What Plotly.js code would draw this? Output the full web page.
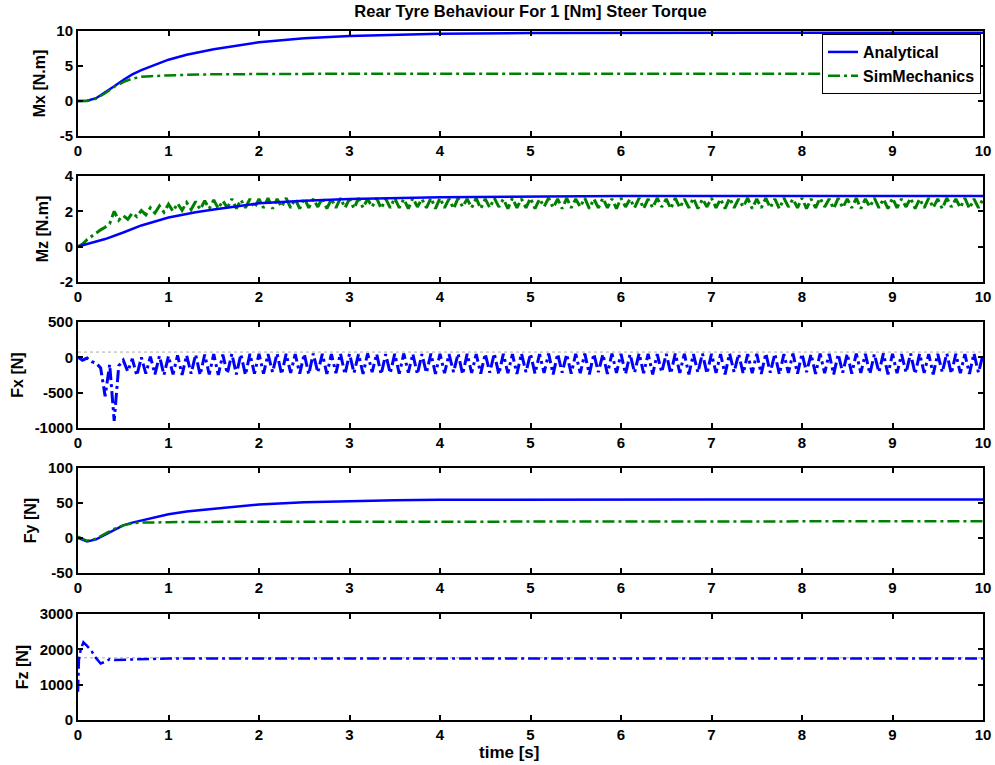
<!DOCTYPE html>
<html>
<head>
<meta charset="utf-8">
<script src="https://cdn.plot.ly/plotly-3.0.1.min.js"></script>
<style>html,body{margin:0;padding:0;background:#fff;}#chart{width:995px;height:765px;}</style>
</head>
<body>
<div id="chart"></div>
<script>
// ---------- data ----------
const tA = [0,0.1,0.2,0.3,0.4,0.5,0.6,0.7,0.8,1,1.2,1.5,2,2.5,3,3.5,4,5,6,7,8,9,10];
const mxAnalytical = [0,0.05,0.4,1.2,2.1,3.0,3.8,4.4,4.9,5.9,6.6,7.4,8.4,8.95,9.3,9.5,9.6,9.7,9.75,9.75,9.75,9.75,9.75];
const mxSim = [0,0,0.35,1.1,2.0,2.7,3.2,3.45,3.55,3.7,3.75,3.82,3.87,3.9,3.9,3.9,3.9,3.9,3.9,3.9,3.9,3.9,3.9];

const tMzA = [0,0.1,0.2,0.3,0.5,0.7,1,1.3,1.5,2,2.5,3,4,5,6,8,10];
const mzAnalytical = [0,0.15,0.3,0.43,0.8,1.2,1.65,1.95,2.1,2.45,2.6,2.7,2.8,2.85,2.87,2.87,2.87];

const tOsc = [0,0.05,0.1,0.15,0.2,0.25,0.3,0.35,0.4,0.45,0.5,0.55,0.6,0.65,0.7,0.75,0.8,0.85,0.9,0.95,
1,1.05,1.1,1.15,1.2,1.25,1.3,1.35,1.4,1.45,1.5,1.55,1.6,1.65,1.7,1.75,1.8,1.85,1.9,1.95,
2,2.05,2.1,2.15,2.2,2.25,2.3,2.35,2.4,2.45,2.5,2.55,2.6,2.65,2.7,2.75,2.8,2.85,2.9,2.95,
3,3.05,3.1,3.15,3.2,3.25,3.3,3.35,3.4,3.45,3.5,3.55,3.6,3.65,3.7,3.75,3.8,3.85,3.9,3.95,
4,4.05,4.1,4.15,4.2,4.25,4.3,4.35,4.4,4.45,4.5,4.55,4.6,4.65,4.7,4.75,4.8,4.85,4.9,4.95,
5,5.05,5.1,5.15,5.2,5.25,5.3,5.35,5.4,5.45,5.5,5.55,5.6,5.65,5.7,5.75,5.8,5.85,5.9,5.95,
6,6.05,6.1,6.15,6.2,6.25,6.3,6.35,6.4,6.45,6.5,6.55,6.6,6.65,6.7,6.75,6.8,6.85,6.9,6.95,
7,7.05,7.1,7.15,7.2,7.25,7.3,7.35,7.4,7.45,7.5,7.55,7.6,7.65,7.7,7.75,7.8,7.85,7.9,7.95,
8,8.05,8.1,8.15,8.2,8.25,8.3,8.35,8.4,8.45,8.5,8.55,8.6,8.65,8.7,8.75,8.8,8.85,8.9,8.95,
9,9.05,9.1,9.15,9.2,9.25,9.3,9.35,9.4,9.45,9.5,9.55,9.6,9.65,9.7,9.75,9.8,9.85,9.9,9.95,
10];

const mzSim = [0,0.15,0.4,0.6,0.75,0.95,1.1,1.3,2.0,1.5,1.75,1.55,1.9,1.7,2.05,1.8,2.2,1.9,2.3,1.95,
2.4,2.0,2.45,2.05,2.5,2.1,2.55,2.1,2.6,2.15,2.65,2.15,2.6,2.2,2.7,2.15,2.65,2.2,2.7,2.2,
2.7,2.2,2.75,2.15,2.7,2.25,2.75,2.2,2.7,2.15,2.75,2.2,2.7,2.25,2.75,2.15,2.7,2.2,2.75,2.2,
2.7,2.15,2.75,2.2,2.7,2.25,2.75,2.15,2.7,2.2,2.75,2.2,2.7,2.15,2.75,2.25,2.7,2.2,2.75,2.15,
2.75,2.2,2.7,2.15,2.75,2.25,2.7,2.2,2.75,2.15,2.7,2.2,2.75,2.25,2.7,2.15,2.75,2.2,2.7,2.2,
2.75,2.15,2.7,2.25,2.75,2.2,2.7,2.15,2.75,2.2,2.7,2.25,2.75,2.15,2.7,2.2,2.75,2.2,2.7,2.15,
2.75,2.25,2.7,2.2,2.75,2.15,2.7,2.2,2.75,2.25,2.7,2.15,2.75,2.2,2.7,2.2,2.75,2.15,2.7,2.25,
2.75,2.2,2.7,2.15,2.75,2.2,2.7,2.25,2.75,2.15,2.7,2.2,2.75,2.2,2.7,2.15,2.75,2.25,2.7,2.2,
2.75,2.15,2.7,2.2,2.75,2.25,2.7,2.15,2.75,2.2,2.7,2.2,2.75,2.15,2.7,2.25,2.75,2.2,2.7,2.15,
2.75,2.2,2.7,2.25,2.75,2.15,2.7,2.2,2.75,2.2,2.7,2.15,2.75,2.25,2.7,2.2,2.75,2.15,2.7,2.2,
2.7];

const fxSim = [0,-40,-10,-60,-80,-150,-550,-100,-900,-120,-40,-200,-20,-260,0,-230,10,-240,20,-250,
20,-240,30,-250,30,-230,40,-250,40,-240,45,-250,40,-230,50,-240,45,-250,50,-230,
50,-230,45,-210,55,-240,50,-220,45,-230,50,-240,55,-215,50,-235,45,-225,55,-240,
50,-220,45,-235,55,-210,50,-240,45,-225,50,-230,55,-215,50,-240,45,-220,55,-235,
50,-225,45,-210,55,-240,50,-220,45,-230,50,-215,55,-240,50,-225,45,-235,55,-210,
50,-230,45,-220,55,-240,50,-215,45,-230,50,-225,55,-240,50,-210,45,-235,55,-220,
50,-235,45,-215,55,-225,50,-240,45,-210,50,-230,55,-220,50,-240,45,-215,55,-230,
50,-220,45,-240,55,-210,50,-230,45,-225,50,-235,55,-215,50,-240,45,-220,55,-230,
50,-210,45,-235,55,-225,50,-240,45,-215,50,-230,55,-220,50,-235,45,-210,55,-240,
50,-225,45,-215,55,-235,50,-220,45,-240,50,-210,55,-230,50,-225,45,-235,55,-215,
40];
const tLine = [0,10];
const fxAnalytical = [75,75];

const fyAnalytical = [0,-5,-2,5,12,18,22,25,28,34,38,42,48,51,53,54,54.5,55,55,55,55,55,55];
const fySim = [2,-4,-1,6,13,18,21,22,22.5,22.5,23,23,23.5,24,24,24,24,24,24,24,24,24,24];

const tFz = [0,0.01,0.03,0.06,0.1,0.15,0.2,0.25,0.3,0.35,0.4,0.5,0.7,1,2,3,4,5,6,7,8,9,10];
const fzSim = [800,1700,2000,2200,2100,1950,1750,1600,1650,1720,1700,1710,1730,1740,1740,1740,1740,1740,1740,1740,1740,1740,1740];
const fzAnalytical = [1760,1760];

const yTicks = {
  y1: [-5,0,5,10], y2: [-2,0,2,4], y3: [-1000,-500,0,500], y4: [-50,0,50,100], y5: [0,1000,2000,3000]
};
const xTicks = [0,1,2,3,4,5,6,7,8,9,10];

// ---------- styles ----------
const BLUE = '#0000ff', GREEN = '#008000';
const DASHDOT = '12px,4px,3px,4px';
const FONT = 'Liberation Sans, Arial, sans-serif';

const traces = [
  {x:tA, y:mxAnalytical, xaxis:'x', yaxis:'y', name:'Analytical', mode:'lines', line:{color:BLUE,width:2.5}},
  {x:tA, y:mxSim, xaxis:'x', yaxis:'y', name:'SimMechanics', mode:'lines', line:{color:GREEN,width:2.5,dash:DASHDOT}},
  {x:tOsc, y:mzSim, xaxis:'x2', yaxis:'y2', mode:'lines', showlegend:false, line:{color:GREEN,width:3,dash:DASHDOT}},
  {x:tMzA, y:mzAnalytical, xaxis:'x2', yaxis:'y2', mode:'lines', showlegend:false, line:{color:BLUE,width:2.5}},
  {x:tLine, y:fxAnalytical, xaxis:'x3', yaxis:'y3', mode:'lines', showlegend:false, line:{color:'#aaaaaa',width:1,dash:'dot'}},
  {x:tOsc, y:fxSim, xaxis:'x3', yaxis:'y3', mode:'lines', showlegend:false, line:{color:BLUE,width:3,dash:DASHDOT}},
  {x:tA, y:fyAnalytical, xaxis:'x4', yaxis:'y4', mode:'lines', showlegend:false, line:{color:BLUE,width:2.5}},
  {x:tA, y:fySim, xaxis:'x4', yaxis:'y4', mode:'lines', showlegend:false, line:{color:GREEN,width:2.5,dash:DASHDOT}},
  {x:tLine, y:fzAnalytical, xaxis:'x5', yaxis:'y5', mode:'lines', showlegend:false, line:{color:'#aaaaaa',width:1,dash:'dot'}},
  {x:tFz, y:fzSim, xaxis:'x5', yaxis:'y5', mode:'lines', showlegend:false, line:{color:BLUE,width:2.5,dash:DASHDOT}}
];

function baseAxis(){
  return {showline:true, linecolor:'black', linewidth:2, mirror:'ticks', ticks:'inside', ticklen:5, tickwidth:2,
    tickcolor:'black', showgrid:false, zeroline:false, fixedrange:true,
    tickfont:{family:FONT, size:15, color:'black', weight:'bold'}};
}
function xAxis(anchor){
  return Object.assign(baseAxis(), {anchor:anchor, domain:[0,1], range:[0,10], tickmode:'array', tickvals:xTicks, ticktext:xTicks.map(String)});
}
function yAxis(anchor, domain, range, ticks, title){
  return Object.assign(baseAxis(), {anchor:anchor, domain:domain, range:range, tickmode:'array', tickvals:ticks,
    ticktext:ticks.map(String), title:{text:title, font:{family:FONT, size:16, color:'black', weight:'bold'}, standoff:7}});
}

const layout = {
  width:995, height:765,
  margin:{l:78, r:12, t:31, b:45},
  paper_bgcolor:'white', plot_bgcolor:'white',
  font:{family:FONT, color:'black'},
  title:{text:'Rear Tyre Behaviour For 1 [Nm] Steer Torque', font:{family:FONT, size:16.5, weight:'bold', color:'black'},
    xref:'paper', x:0.5, xanchor:'center', yref:'container', y:0.985, yanchor:'middle'},
  showlegend:true,
  legend:{x:0.9978, xanchor:'right', y:0.9956, yanchor:'top', bgcolor:'white', bordercolor:'black', borderwidth:1,
    font:{family:FONT, size:16, weight:'bold', color:'black'}, tracegroupgap:0},
  annotations:[{text:'time [s]', xref:'paper', yref:'paper', x:0.476, y:-0.0305, xanchor:'center', yanchor:'top',
    showarrow:false, font:{family:FONT, size:17, weight:'bold', color:'black'}}],
  xaxis: xAxis('y'),
  xaxis2: xAxis('y2'),
  xaxis3: xAxis('y3'),
  xaxis4: xAxis('y4'),
  xaxis5: xAxis('y5'),
  yaxis: yAxis('x', [0.8476,1], [-5,10], yTicks.y1, 'Mx [N.m]'),
  yaxis2: yAxis('x2', [0.6357,0.7896], [-2,4], yTicks.y2, 'Mz [N.m]'),
  yaxis3: yAxis('x3', [0.4238,0.5776], [-1000,500], yTicks.y3, 'Fx [N]'),
  yaxis4: yAxis('x4', [0.2134,0.3657], [-50,100], yTicks.y4, 'Fy [N]'),
  yaxis5: yAxis('x5', [0,0.1538], [0,3000], yTicks.y5, 'Fz [N]')
};

Plotly.newPlot('chart', traces, layout, {displayModeBar:false, staticPlot:true});
</script>
</body>
</html>
